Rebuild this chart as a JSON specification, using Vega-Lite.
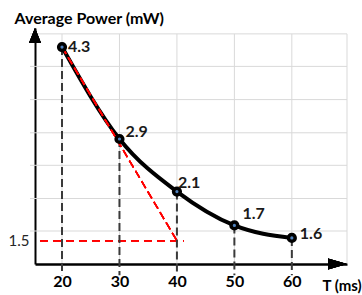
{
  "$schema": "https://vega.github.io/schema/vega-lite/v6.json",
  "autosize": "none",
  "width": 312,
  "height": 236,
  "padding": {"left": 35, "top": 28, "right": 15, "bottom": 31},
  "background": "white",
  "config": {"view": {"stroke": null}, "font": "Lato"},
  "datasets": {
    "pts": [
      {"T": 20, "power": 4.3, "label": "4.3"},
      {"T": 30, "power": 2.97, "label": "2.9"},
      {"T": 40, "power": 2.21, "label": "2.1"},
      {"T": 50, "power": 1.72, "label": "1.7"},
      {"T": 60, "power": 1.54, "label": "1.6"}
    ],
    "gridx": [{"T": 20}, {"T": 30}, {"T": 40}, {"T": 50}, {"T": 60}, {"T": 69.6}],
    "gridy": [{"power": 1.64}, {"power": 2.11}, {"power": 2.59}, {"power": 3.06}, {"power": 3.54}, {"power": 4.02}, {"power": 4.49}]
  },
  "data": {"name": "pts"},
  "layer": [
    {
      "data": {"name": "gridx"},
      "mark": {"type": "rule", "color": "#D9D9D9", "strokeWidth": 1},
      "encoding": {
        "x": {
          "field": "T", "type": "quantitative",
          "scale": {"domain": [15.3, 69.6], "nice": false, "zero": false},
          "axis": {
            "values": [20, 30, 40, 50, 60], "grid": false, "ticks": false,
            "domainColor": "#000000", "domainWidth": 2.5,
            "labelFont": "Lato", "labelFontWeight": "bold", "labelFontSize": 16,
            "labelColor": "#000000", "labelPadding": 9,
            "title": "T (ms)", "titleX": 287, "titleY": 26, "titleAlign": "left",
            "titleBaseline": "alphabetic", "titleFont": "Lato", "titleFontSize": 15,
            "titleFontWeight": "bold", "titleColor": "#000000"
          }
        },
        "y": {
          "datum": 4.49, "type": "quantitative",
          "scale": {"domain": [1.163, 4.575], "nice": false, "zero": false},
          "axis": {
            "values": [1.5],
            "grid": false, "ticks": false,
            "domainColor": "#000000", "domainWidth": 2,
            "labelFont": "Lato", "labelFontSize": 15, "labelColor": "#262626",
            "labelPadding": 6, "labelOverlap": false,
            "title": "Average Power (mW)", "titleAngle": 0, "titleX": -21, "titleY": -5,
            "titleAlign": "left", "titleBaseline": "alphabetic", "titleFont": "Lato",
            "titleFontSize": 16, "titleFontWeight": "bold", "titleColor": "#000000"
          }
        },
        "y2": {"datum": 1.163}
      }
    },
    {
      "data": {"name": "gridy"},
      "mark": {"type": "rule", "color": "#D9D9D9", "strokeWidth": 1},
      "encoding": {
        "x": {"datum": 14.43, "type": "quantitative"},
        "x2": {"datum": 69.6},
        "y": {"field": "power", "type": "quantitative"}
      }
    },
    {
      "mark": {"type": "rule", "color": "#FF0000", "strokeWidth": 1.5, "strokeDash": [8, 5]},
      "encoding": {
        "x": {"datum": 16.17, "type": "quantitative"},
        "x2": {"datum": 41.2},
        "y": {"datum": 1.5, "type": "quantitative"}
      }
    },
    {
      "mark": {"type": "rule", "color": "#3A3A3A", "strokeWidth": 2, "strokeDash": [8, 4]},
      "encoding": {
        "x": {"field": "T", "type": "quantitative"},
        "y": {"field": "power", "type": "quantitative"},
        "y2": {"datum": 1.0}
      }
    },
    {
      "mark": {"type": "line", "color": "#000000", "strokeWidth": 4, "interpolate": "monotone"},
      "encoding": {
        "x": {"field": "T", "type": "quantitative"},
        "y": {"field": "power", "type": "quantitative"}
      }
    },
    {
      "mark": {"type": "rule", "color": "#FF0000", "strokeWidth": 1.5, "strokeDash": [8, 4]},
      "encoding": {
        "x": {"datum": 20, "type": "quantitative"},
        "x2": {"datum": 40},
        "y": {"datum": 4.3, "type": "quantitative"},
        "y2": {"datum": 1.5}
      }
    },
    {
      "mark": {"type": "point", "filled": true, "fill": "#4F81BD", "stroke": "#000000", "strokeWidth": 3.5, "size": 45, "opacity": 1},
      "encoding": {
        "x": {"field": "T", "type": "quantitative"},
        "y": {"field": "power", "type": "quantitative"}
      }
    },
    {
      "mark": {"type": "point", "shape": "M0,0L0.4,1L-0.4,1Z", "filled": true, "color": "#000000", "size": 900, "opacity": 1},
      "encoding": {
        "x": {"datum": 15.3, "type": "quantitative"},
        "y": {"datum": 4.575, "type": "quantitative"}
      }
    },
    {
      "mark": {"type": "point", "shape": "M0,0L-1,-0.29L-1,0.29Z", "filled": true, "color": "#000000", "size": 1444, "opacity": 1},
      "encoding": {
        "x": {"datum": 69.6, "type": "quantitative"},
        "y": {"datum": 1.163, "type": "quantitative"}
      }
    },
    {
      "transform": [{"filter": "datum.T == 20"}],
      "mark": {"type": "text", "align": "left", "baseline": "middle", "dx": 6, "dy": 0, "font": "Lato", "fontWeight": "bold", "fontSize": 16, "color": "#1A1A1A"},
      "encoding": {"x": {"field": "T", "type": "quantitative"}, "y": {"field": "power", "type": "quantitative"}, "text": {"field": "label"}}
    },
    {
      "transform": [{"filter": "datum.T == 30"}],
      "mark": {"type": "text", "align": "left", "baseline": "middle", "dx": 6, "dy": -7, "font": "Lato", "fontWeight": "bold", "fontSize": 16, "color": "#1A1A1A"},
      "encoding": {"x": {"field": "T", "type": "quantitative"}, "y": {"field": "power", "type": "quantitative"}, "text": {"field": "label"}}
    },
    {
      "transform": [{"filter": "datum.T == 40"}],
      "mark": {"type": "text", "align": "left", "baseline": "middle", "dx": 1, "dy": -9, "font": "Lato", "fontWeight": "bold", "fontSize": 16, "color": "#1A1A1A"},
      "encoding": {"x": {"field": "T", "type": "quantitative"}, "y": {"field": "power", "type": "quantitative"}, "text": {"field": "label"}}
    },
    {
      "transform": [{"filter": "datum.T == 50"}],
      "mark": {"type": "text", "align": "left", "baseline": "middle", "dx": 8, "dy": -11, "font": "Lato", "fontWeight": "bold", "fontSize": 16, "color": "#1A1A1A"},
      "encoding": {"x": {"field": "T", "type": "quantitative"}, "y": {"field": "power", "type": "quantitative"}, "text": {"field": "label"}}
    },
    {
      "transform": [{"filter": "datum.T == 60"}],
      "mark": {"type": "text", "align": "left", "baseline": "middle", "dx": 8, "dy": -4, "font": "Lato", "fontWeight": "bold", "fontSize": 16, "color": "#1A1A1A"},
      "encoding": {"x": {"field": "T", "type": "quantitative"}, "y": {"field": "power", "type": "quantitative"}, "text": {"field": "label"}}
    }
  ]
}
